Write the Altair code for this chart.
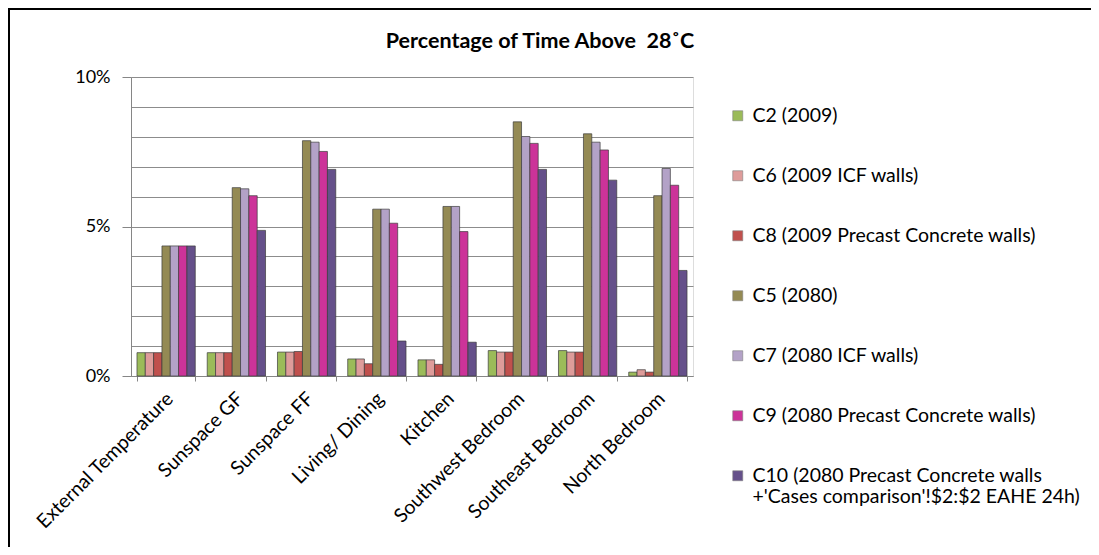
import altair as alt
import pandas as pd

categories = ["External Temperature", "Sunspace GF", "Sunspace FF", "Living/ Dining",
              "Kitchen", "Southwest Bedroom", "Southeast Bedroom", "North Bedroom"]
series = ["C2 (2009)", "C6 (2009 ICF walls)", "C8 (2009 Precast Concrete walls)",
          "C5 (2080)", "C7 (2080 ICF walls)", "C9 (2080 Precast Concrete walls)",
          "C10 (2080 Precast Concrete walls\n+'Cases comparison'!$2:$2 EAHE 24h)"]
colors = ["#9BBB59", "#DE9C9A", "#C0504D", "#948A54", "#B3A2C7", "#CC3399", "#65508A"]
title_text = "Percentage of Time Above\u00a0 28˚C"

c2 = [0.78, 0.78, 0.80, 0.57, 0.54, 0.85, 0.85, 0.13]
c6 = [0.78, 0.78, 0.80, 0.57, 0.54, 0.80, 0.80, 0.21]
c8 = [0.78, 0.78, 0.82, 0.41, 0.39, 0.80, 0.80, 0.13]
c5 = [4.35, 6.30, 7.87, 5.58, 5.67, 8.50, 8.10, 6.03]
c7 = [4.35, 6.26, 7.82, 5.58, 5.67, 8.01, 7.82, 6.94]
c9 = [4.35, 6.03, 7.51, 5.11, 4.83, 7.78, 7.56, 6.38]
c10 = [4.35, 4.87, 6.91, 1.17, 1.13, 6.91, 6.55, 3.53]

all_vals = [c2, c6, c8, c5, c7, c9, c10]
rows = []
for s, vals in zip(series, all_vals):
    for cat, v in zip(categories, vals):
        rows.append({"room": cat, "case": s, "value": v / 100.0})
df = pd.DataFrame(rows)

FONT = "Lato"
W, H = 562, 299
PAD_L, PAD_T = 123, 69

bars = alt.Chart(df).mark_bar(stroke="#3c3c3c", strokeWidth=0.7).encode(
    x=alt.X("room:N", sort=categories, title=None,
            scale=alt.Scale(paddingInner=0.17, paddingOuter=0.085),
            axis=alt.Axis(labelAngle=-45, labelAlign="right", labelBaseline="top",
                          labelFontSize=19.5, labelFont=FONT, labelColor="#000000",
                          labelPadding=8, labelOffset=-3, tickBand="extent", tickSize=5,
                          tickColor="#868686", domainColor="#868686", grid=False,
                          labelLimit=300)),
    xOffset=alt.XOffset("case:N", sort=series, scale=alt.Scale(paddingInner=0, paddingOuter=0)),
    y=alt.Y("value:Q", title=None,
            scale=alt.Scale(domain=[0, 0.1], nice=False),
            axis=alt.Axis(values=[i / 100 for i in range(11)], format=".0%",
                          labelExpr="(round(datum.value*100) % 5 == 0) ? datum.label : ''",
                          tickOpacity=alt.ExprRef(expr="(round(datum.value*100) % 5 == 0) ? 1 : 0"),
                          tickSize=9, tickColor="#868686", domainColor="#868686",
                          gridColor="#8c8c8c", gridWidth=1, labelFontSize=18,
                          labelFont=FONT, labelColor="#000000", labelPadding=12)),
    color=alt.Color("case:N", sort=series,
                    scale=alt.Scale(domain=series, range=colors),
                    legend=alt.Legend(title=None, orient="none", legendX=597, legendY=29,
                                      symbolType="square", symbolSize=100,
                                      symbolStrokeColor="#7f7f7f", symbolStrokeWidth=0.6,
                                      labelFontSize=19.5, labelFont=FONT, labelColor="#000000",
                                      labelLimit=420, rowPadding=39, labelOffset=5,
                                      labelExpr="split(datum.label, '\\n')")),
)

frame = pd.DataFrame({"t": [title_text]})

title = alt.Chart(frame).mark_text(
    font=FONT, fontSize=21.5, fontWeight="bold", color="#000000",
    align="center", baseline="alphabetic"
).encode(text="t:N", x=alt.value(540 - 8 - PAD_L), y=alt.value(48 - 8 - PAD_T))

border = alt.Chart(frame).mark_rect(
    fill="transparent", stroke="#000000", strokeWidth=3
).encode(
    x=alt.value(-PAD_L + 0.5), x2=alt.value(1200),
    y=alt.value(-PAD_T + 0.5), y2=alt.value(700),
)

chart = alt.layer(bars, title, border).properties(
    width=W, height=H,
    autosize=alt.AutoSizeParams(type="none"),
    padding={"left": PAD_L, "top": PAD_T, "right": 1083 - PAD_L - W, "bottom": 539 - PAD_T - H},
).configure_view(stroke=None).configure(background="white")

chart.save("out.html", embed_options={"renderer": "svg", "actions": False})
